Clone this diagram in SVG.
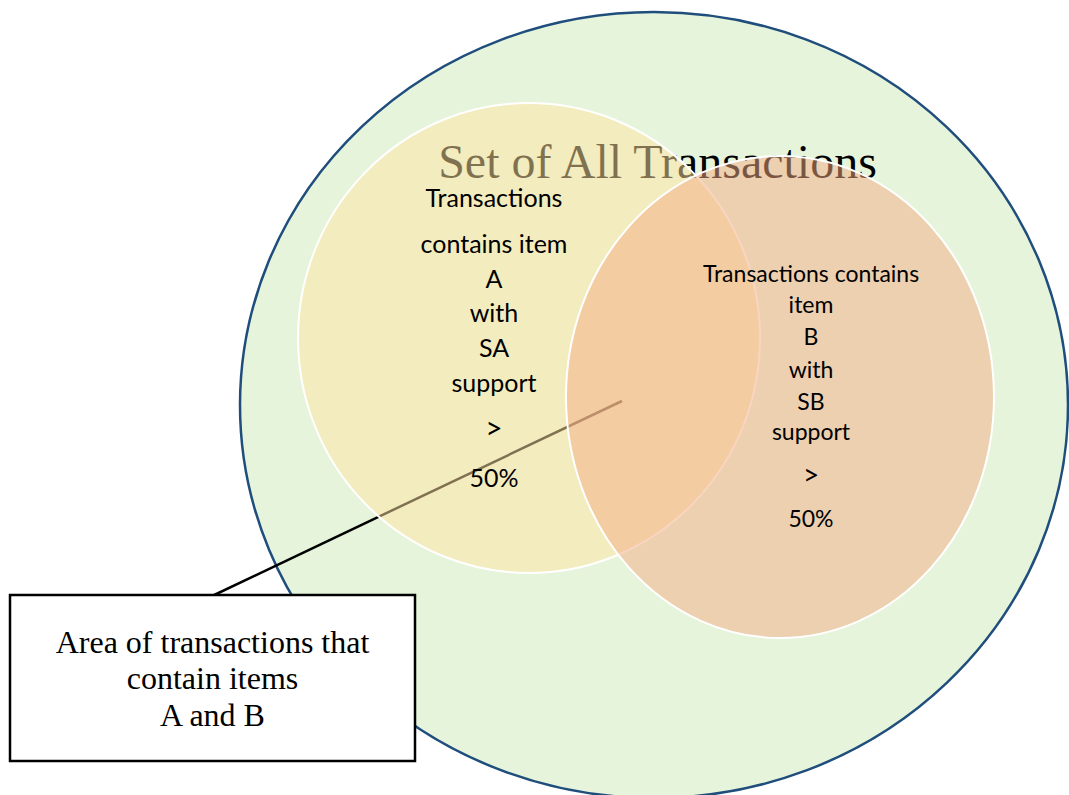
<svg xmlns="http://www.w3.org/2000/svg" width="1069" height="795" viewBox="0 0 1069 795">
<style>
.lbl{font-family:Lato,"Open Sans","Liberation Sans",sans-serif;fill:#000;text-anchor:middle}
.l25{font-size:25px}
.l23{font-size:23px}
.serif{font-family:"Liberation Serif","Times New Roman",serif;fill:#000;text-anchor:middle}
.set{stroke:#fff;stroke-width:2}
</style>
<rect width="1069" height="795" fill="#fff"/>
<g id="universe">
<ellipse cx="654" cy="405" rx="414" ry="393" fill="#e6f4dc" stroke="#1f4e7d" stroke-width="2.5"/>
<text class="serif" x="657.5" y="178" font-size="48">Set of All Transactions</text>
</g>
<g id="connectors">
<line x1="210" y1="597" x2="622" y2="401" stroke="#000" stroke-width="2.5"/>
</g>
<g id="setA">
<ellipse class="set" cx="529" cy="338" rx="231" ry="235" fill="#ffe4a0" fill-opacity="0.5"/>
</g>
<g id="setB">
<ellipse class="set" cx="780" cy="397" rx="214" ry="241" fill="#f4ac84" fill-opacity="0.5"/>
</g>
<g id="labelA">
<text class="lbl l25" x="494" y="207">Transactions</text>
<text class="lbl l25" x="494" y="253">contains item</text>
<text class="lbl l25" x="494" y="288">A</text>
<text class="lbl l25" x="494" y="322">with</text>
<text class="lbl l25" x="494" y="357">SA</text>
<text class="lbl l25" x="494" y="392">support</text>
<text class="lbl" x="494" y="439" style="font-size:30px">&gt;</text>
<text class="lbl l25" x="494" y="487">50%</text>
</g>
<g id="labelB">
<text class="lbl l23" x="811" y="282">Transactions contains</text>
<text class="lbl l23" x="811" y="313">item</text>
<text class="lbl l23" x="811" y="345">B</text>
<text class="lbl l23" x="811" y="378">with</text>
<text class="lbl l23" x="811" y="410">SB</text>
<text class="lbl l23" x="811" y="440">support</text>
<text class="lbl" x="811" y="485" style="font-size:28px">&gt;</text>
<text class="lbl l23" x="811" y="527">50%</text>
</g>
<g id="callout">
<rect x="10" y="595" width="405" height="166" fill="#fff" stroke="#000" stroke-width="2.5"/>
<text class="serif" x="212.5" y="653" font-size="32">Area of transactions that</text>
<text class="serif" x="212.5" y="689" font-size="32">contain items</text>
<text class="serif" x="212.5" y="726" font-size="32">A and B</text>
</g>
</svg>
